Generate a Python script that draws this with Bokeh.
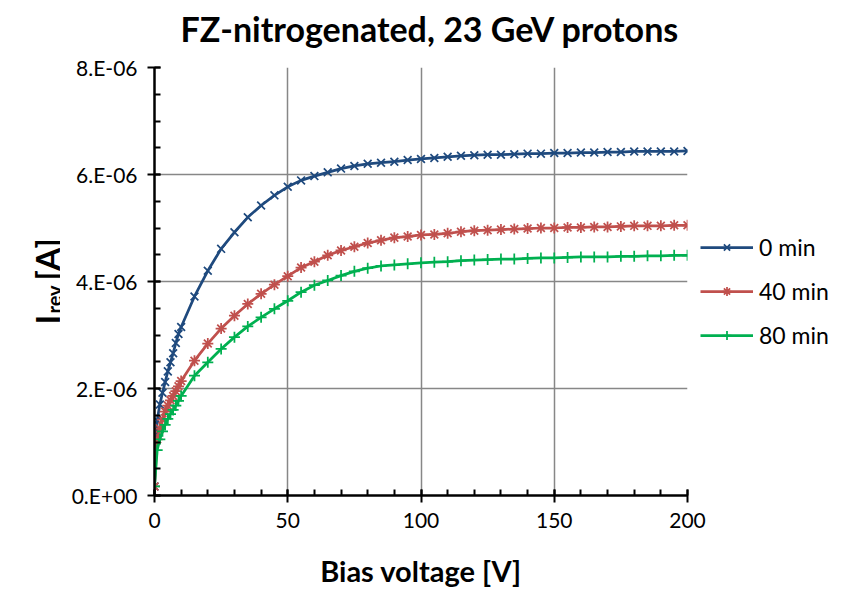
from bokeh.plotting import figure
from bokeh.layouts import row
from bokeh.models import Range1d, FixedTicker, Legend, LegendItem, Title
from bokeh.core.properties import value
from bokeh.embed import file_html
from bokeh.resources import INLINE
import math

# ---------------- data (currents in units of 1e-6 A) ----------------
voltage = [0, 1, 2, 3, 4, 5, 6, 7, 8, 9, 10,
           15, 20, 25, 30, 35, 40, 45, 50, 55, 60, 65, 70, 75, 80, 85, 90, 95, 100,
           105, 110, 115, 120, 125, 130, 135, 140, 145, 150, 155, 160, 165, 170, 175,
           180, 185, 190, 195, 200]

i_0min = [0.17, 1.40, 1.70, 1.92, 2.12, 2.32, 2.49, 2.66, 2.85, 3.02, 3.15,
          3.72, 4.20, 4.61, 4.92, 5.20, 5.42, 5.61, 5.77, 5.89, 5.97, 6.04, 6.11, 6.16,
          6.20, 6.22, 6.24, 6.27, 6.29, 6.31, 6.33, 6.35, 6.36, 6.37, 6.37, 6.38, 6.39,
          6.39, 6.40, 6.40, 6.41, 6.41, 6.42, 6.42, 6.43, 6.43, 6.43, 6.43, 6.44]

i_40min = [0.17, 1.05, 1.25, 1.42, 1.57, 1.68, 1.78, 1.86, 1.95, 2.04, 2.14,
           2.52, 2.84, 3.12, 3.36, 3.58, 3.77, 3.94, 4.10, 4.26, 4.37, 4.49, 4.58, 4.65,
           4.72, 4.77, 4.82, 4.84, 4.87, 4.88, 4.90, 4.93, 4.95, 4.96, 4.97, 4.98, 4.99,
           5.00, 5.00, 5.01, 5.01, 5.02, 5.02, 5.03, 5.04, 5.04, 5.04, 5.05, 5.05]

i_80min = [0.17, 0.85, 1.05, 1.20, 1.32, 1.43, 1.52, 1.60, 1.68, 1.77, 1.86,
           2.24, 2.49, 2.74, 2.96, 3.16, 3.33, 3.49, 3.64, 3.80, 3.93, 4.02, 4.11, 4.19,
           4.25, 4.29, 4.31, 4.33, 4.35, 4.36, 4.37, 4.39, 4.40, 4.41, 4.42, 4.42, 4.43,
           4.44, 4.44, 4.45, 4.46, 4.46, 4.46, 4.47, 4.47, 4.48, 4.48, 4.49, 4.49]

series_names = ["0 min", "40 min", "80 min"]

x_major_ticks = [0, 50, 100, 150, 200]
x_minor_ticks = list(range(0, 201, 10))
y_major_ticks = [0, 2, 4, 6, 8]
y_tick_labels = ["0.E+00", "2.E-06", "4.E-06", "6.E-06", "8.E-06"]
y_minor_ticks = [k * 0.5 for k in range(17)]

title_text = "FZ-nitrogenated, 23 GeV protons"
xlabel_text = "Bias voltage [V]"
ylabel_main, ylabel_sub, ylabel_unit = "I", "rev", "[A]"

# ---------------- styling / layout ----------------
FONT = "Lato"
C_BLUE = "#1F4A7E"
C_RED = "#C0504D"
C_GREEN = "#00B050"
GRID = "#878787"

H = 589                      # total height
LW = 60                      # width of the y-label strip
FW, FH = 533, 428            # plot frame
BL, BR, BT = 154 - LW, 150, 67
BB = H - BT - FH
FRAME_TOP, FRAME_BOTTOM = BT, BT + FH

def dy(py):  # page pixel row -> value on the (shared) y scale
    return (FRAME_BOTTOM - py) / FH * 8.0

# ---------- y-axis title strip (rotated text with subscript) ----------
ylab = figure(frame_width=LW, frame_height=FH,
              min_border_left=0, min_border_right=0, min_border_top=BT, min_border_bottom=BB,
              x_range=Range1d(0, LW), y_range=Range1d(0, 8),
              x_axis_type=None, y_axis_type=None,
              output_backend="svg", toolbar_location=None)
ylab.outline_line_color = None
ylab.grid.visible = False

for txt, px, py, fs in [(ylabel_main, 46, 324, "33px"),
                        (ylabel_sub, 53, 313, "20px"),
                        (ylabel_unit, 46, 280, "33px")]:
    ylab.text(x=[px], y=[dy(py)], text=[txt], angle=math.pi / 2,
              text_font=value(FONT), text_font_size=value(fs), text_font_style="bold",
              text_color="black", text_align="left", text_baseline="alphabetic")

# ---------------- main plot ----------------
p = figure(frame_width=FW, frame_height=FH,
           min_border_left=BL, min_border_right=BR, min_border_top=BT, min_border_bottom=BB,
           x_range=Range1d(0, 200), y_range=Range1d(0, 8),
           output_backend="svg", toolbar_location=None)
p.outline_line_color = None

# spacer (nearest the frame), then the real title above it
p.add_layout(Title(text=" ", text_font_size="15px", standoff=0), "above")
p.add_layout(Title(text=title_text, align="left", offset=26, text_font=FONT,
                   text_font_size="34px", text_font_style="bold", text_color="black",
                   standoff=0), "above")

for ax in (p.xaxis[0], p.yaxis[0]):
    ax.axis_line_color = "black"
    ax.axis_line_width = 2.5
    ax.major_tick_line_color = "black"
    ax.major_tick_line_width = 2
    ax.minor_tick_line_color = "black"
    ax.minor_tick_line_width = 2
    ax.major_tick_in = 6
    ax.major_tick_out = 7
    ax.minor_tick_in = 6
    ax.minor_tick_out = 0
    ax.major_label_text_font = FONT
    ax.major_label_text_font_size = "21px"
    ax.major_label_text_color = "black"

p.xaxis[0].ticker = FixedTicker(ticks=x_major_ticks, minor_ticks=x_minor_ticks)
p.yaxis[0].ticker = FixedTicker(ticks=y_major_ticks, minor_ticks=y_minor_ticks)
p.yaxis[0].major_label_overrides = {t: l for t, l in zip(y_major_ticks, y_tick_labels)}
p.xaxis[0].major_label_standoff = 10
p.yaxis[0].major_label_standoff = 10

p.xaxis[0].axis_label = xlabel_text
p.xaxis[0].axis_label_text_font = FONT
p.xaxis[0].axis_label_text_font_size = "29px"
p.xaxis[0].axis_label_text_font_style = "bold"
p.xaxis[0].axis_label_text_color = "black"
p.xaxis[0].axis_label_standoff = 22

p.xgrid.ticker = FixedTicker(ticks=x_major_ticks)
p.ygrid.ticker = FixedTicker(ticks=y_major_ticks)
p.xgrid.grid_line_color = GRID
p.ygrid.grid_line_color = GRID
p.xgrid.grid_line_width = 1.5
p.ygrid.grid_line_width = 1.5

items = []
for name, vals, color, marker in zip(series_names, [i_0min, i_40min, i_80min],
                                     [C_BLUE, C_RED, C_GREEN], ["x", "asterisk", "cross"]):
    ln = p.line(voltage, vals, line_color=color, line_width=2.75)
    sc = p.scatter(voltage, vals, marker=marker, size=11, line_color=color,
                   line_width=1.75, fill_color=None)
    items.append(LegendItem(label=name, renderers=[ln, sc]))

legend = Legend(items=items, location=(13, 146),
                glyph_width=53, glyph_height=22, label_height=22, spacing=16,
                label_standoff=6, padding=0, margin=0,
                border_line_color=None, background_fill_alpha=0,
                label_text_font=FONT, label_text_font_size="23px",
                label_text_color="black", label_text_baseline="middle")
p.add_layout(legend, "right")

layout = row(ylab, p)
open("out.html", "w").write(file_html(layout, INLINE))
